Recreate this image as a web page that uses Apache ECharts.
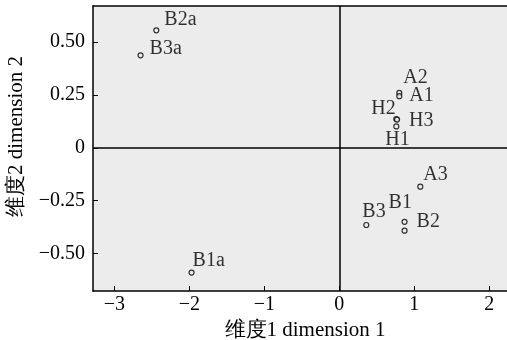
<!DOCTYPE html>
<html>
<head>
<meta charset="utf-8">
<script src="https://cdn.jsdelivr.net/npm/echarts@6/dist/echarts.min.js"></script>
<style>html,body{margin:0;padding:0;background:#fff;}#c{width:507px;height:340px;}</style>
</head>
<body>
<div id="c"></div>
<script>
// Data
var names = ['B2a','B3a','B1a','A2','A1','H2','H3','H1','A3','B3','B1','B2'];
var dim1 = [-2.44,-2.65,-1.97,0.80,0.80,0.76,0.77,0.76,1.08,0.36,0.87,0.87];
var dim2 = [0.555,0.437,-0.59,0.259,0.244,0.136,0.133,0.101,-0.184,-0.365,-0.35,-0.392];
var xTicks = [-3,-2,-1,0,1,2];
var yTicks = [-0.5,-0.25,0,0.25,0.5];
var xTitle = '维度1 dimension 1';
var yTitle = '维度2 dimension 2';

// Label layout (pixel offsets of label left edge / vertical centre from point)
var labelOffsets = {
  'B2a':[8,-11],'B3a':[9,-7],'B1a':[1,-12],'A2':[4,-15],'A1':[10,0],
  'H2':[-25,-10],'H3':[12,1],'H1':[-11,13],'A3':[3,-12],'B3':[-4,-13],
  'B1':[-16,-19],'B2':[12,-9]
};

var FONT = '"Liberation Serif","Times New Roman",serif';
function fmt(v){
  var s;
  if (v === 0) s = '0';
  else if (Number.isInteger(v)) s = String(Math.abs(v));
  else s = Math.abs(v).toFixed(2);
  return (v < 0 ? '\u2212' : '') + s;
}

var pts = names.map(function(n,i){
  var o = labelOffsets[n];
  return {name:n, value:[dim1[i], dim2[i]],
    label:{show:true, formatter:n, position:'inside', align:'left', verticalAlign:'middle', offset:o}};
});

var chart = echarts.init(document.getElementById('c'), null, {renderer:'canvas'});
chart.setOption({
  animation:false,
  grid:{left:93, right:0, top:6, bottom:49, show:true, backgroundColor:'#ececec', borderWidth:0,
        containLabel:false, outerBoundsMode:'none'},
  xAxis:[{
    type:'value', min:-3.284, max:2.236,
    name:xTitle, nameLocation:'middle', nameGap:28,
    nameTextStyle:{fontFamily:FONT, fontSize:21, color:'#000', padding:[0,0,0,10]},
    axisLine:{show:true, onZero:false, lineStyle:{color:'#000', width:1.5}},
    axisTick:{show:true, inside:true, length:5, customValues:xTicks, lineStyle:{color:'#000'}},
    axisLabel:{customValues:xTicks, formatter:fmt, fontFamily:FONT, fontSize:20, color:'#000', margin:4},
    splitLine:{show:false}
  },{
    type:'value', position:'top', min:-3.284, max:2.236,
    axisLine:{show:true, onZero:false, lineStyle:{color:'#000', width:1.5}},
    axisTick:{show:false}, axisLabel:{show:false}, splitLine:{show:false}
  }],
  yAxis:{
    type:'value', min:-0.677, max:0.67,
    name:yTitle, nameLocation:'middle', nameGap:66, nameRotate:90,
    nameTextStyle:{fontFamily:FONT, fontSize:21, color:'#000', padding:[0,0,0,24]},
    axisLine:{show:true, onZero:false, lineStyle:{color:'#000', width:1.5}},
    axisTick:{show:true, inside:true, length:5, customValues:yTicks, lineStyle:{color:'#000'}},
    axisLabel:{customValues:yTicks, formatter:fmt, fontFamily:FONT, fontSize:20, color:'#000', margin:8},
    splitLine:{show:false}
  },
  series:[{
    type:'scatter', data:pts, symbol:'circle', symbolSize:5,
    itemStyle:{color:'#ececec', borderColor:'#000', borderWidth:1.2},
    label:{fontFamily:FONT, fontSize:20, color:'#000'},
    markLine:{
      silent:true, symbol:['none','none'], label:{show:false},
      lineStyle:{color:'#000', width:1.5, type:'solid'},
      data:[{xAxis:0},{yAxis:0}]
    }
  }]
});
</script>
</body>
</html>
